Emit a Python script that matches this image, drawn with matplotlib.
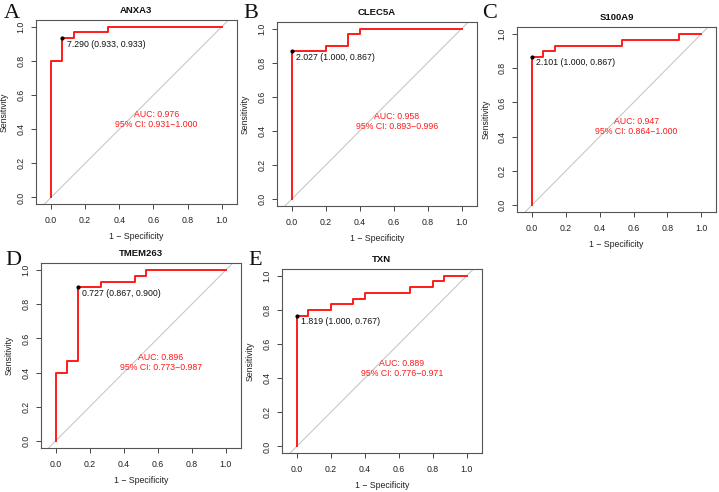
import matplotlib
matplotlib.use('Agg')
import matplotlib.pyplot as plt

plt.rcParams['font.family'] = ['Liberation Sans', 'DejaVu Sans']

# ROC staircase corners (x = 1 - specificity)
genes = ['ANXA3', 'CLEC5A', 'S100A9', 'TMEM263', 'TXN']
letters = ['A', 'B', 'C', 'D', 'E']

fpr_anxa3 = [0.0, 0.067, 0.133, 0.333, 1.0]
tpr_anxa3 = [0.0, 0.8, 0.933, 0.967, 1.0]
fpr_clec5a = [0.0, 0.2, 0.333, 0.4, 1.0]
tpr_clec5a = [0.0, 0.867, 0.9, 0.967, 1.0]
fpr_s100a9 = [0.0, 0.067, 0.133, 0.533, 0.867, 1.0]
tpr_s100a9 = [0.0, 0.867, 0.9, 0.933, 0.967, 1.0]
fpr_tmem263 = [0.0, 0.067, 0.133, 0.267, 0.467, 0.533, 1.0]
tpr_tmem263 = [0.0, 0.4, 0.467, 0.9, 0.933, 0.967, 1.0]
fpr_txn = [0.0, 0.067, 0.2, 0.333, 0.4, 0.667, 0.8, 0.867, 1.0]
tpr_txn = [0.0, 0.767, 0.8, 0.833, 0.867, 0.9, 0.933, 0.967, 1.0]

auc = [0.976, 0.958, 0.947, 0.896, 0.889]
ci_low = [0.931, 0.893, 0.864, 0.773, 0.776]
ci_high = [1.000, 0.996, 1.000, 0.987, 0.971]
best_thr = [7.290, 2.027, 2.101, 0.727, 1.819]
best_spec = [0.933, 1.000, 1.000, 0.867, 1.000]
best_sens = [0.933, 0.867, 0.867, 0.900, 0.767]

fprs = [fpr_anxa3, fpr_clec5a, fpr_s100a9, fpr_tmem263, fpr_txn]
tprs = [tpr_anxa3, tpr_clec5a, tpr_s100a9, tpr_tmem263, tpr_txn]

W, H = 719, 492
# plot boxes in pixels: left, top, right, bottom
boxes = [(36, 20, 236.7, 204.3),
         (276.7, 21.7, 476.7, 206),
         (517.3, 27.3, 716, 211.7),
         (40.7, 263.3, 240.7, 447.7),
         (281.7, 269, 481.7, 453.3)]
letter_pos = [(4, 18), (243, 18), (482, 18), (5, 265), (248, 265)]

fig = plt.figure(figsize=(W / 100, H / 100), dpi=100)

for i in range(5):
	l, t, r, b = boxes[i]
	ax = fig.add_axes([l / W, 1 - b / H, (r - l) / W, (b - t) / H])
	ax.set_xlim(-0.088, 1.088)
	ax.set_ylim(-0.04, 1.04)

	ax.axline((0, 0), slope=1, color='#c8c8c8', lw=0.8, zorder=1)
	ax.plot(fprs[i], tprs[i], drawstyle='steps-pre', color='#ff1a1a', lw=1.4, zorder=2)

	px = 1 - best_spec[i]
	ax.plot([px], [best_sens[i]], 'o', color='black', ms=2, zorder=3)
	ax.annotate('%.3f (%.3f, %.3f)' % (best_thr[i], best_spec[i], best_sens[i]),
		(px, best_sens[i]), xytext=(3, -1), textcoords='offset points',
		ha='left', va='top', fontsize=6.3, color='#111111')

	ax.text(0.618, 0.457, 'AUC: %.3f\n95%% CI: %.3f\u2212%.3f' % (auc[i], ci_low[i], ci_high[i]),
		ha='center', va='center', multialignment='center', fontsize=6.3,
		color='#ff1a1a', linespacing=1.15)

	ticks = [0.0, 0.2, 0.4, 0.6, 0.8, 1.0]
	ax.set_xticks(ticks)
	ax.set_yticks(ticks)
	ax.set_xticklabels(['%.1f' % v for v in ticks])
	ax.set_yticklabels(['%.1f' % v for v in ticks], rotation=90, va='center')
	ax.tick_params(direction='out', length=3.6, width=0.7, colors='#444444',
		labelcolor='#222222', labelsize=6.3)
	ax.tick_params(axis='x', pad=5)
	ax.tick_params(axis='y', pad=4)
	for sp in ax.spines.values():
		sp.set_color('#555555')
		sp.set_linewidth(0.8)

	ax.set_xlabel('1 \u2212 Specificity', fontsize=6.3, color='#222222')
	ax.set_ylabel('Sensitivity', fontsize=6.3, color='#222222')
	ax.xaxis.set_label_coords(0.5, -28 / (b - t))
	ax.yaxis.set_label_coords(-27 / (r - l), 0.5)
	ax.set_title(genes[i], fontsize=6.8, fontweight='bold', pad=5, color='#111111')

	lx, ly = letter_pos[i]
	fig.text(lx / W, 1 - ly / H, letters[i], fontsize=16, family='Liberation Serif',
		ha='left', va='baseline', color='#111111')

fig.savefig('out.png', dpi=100)
